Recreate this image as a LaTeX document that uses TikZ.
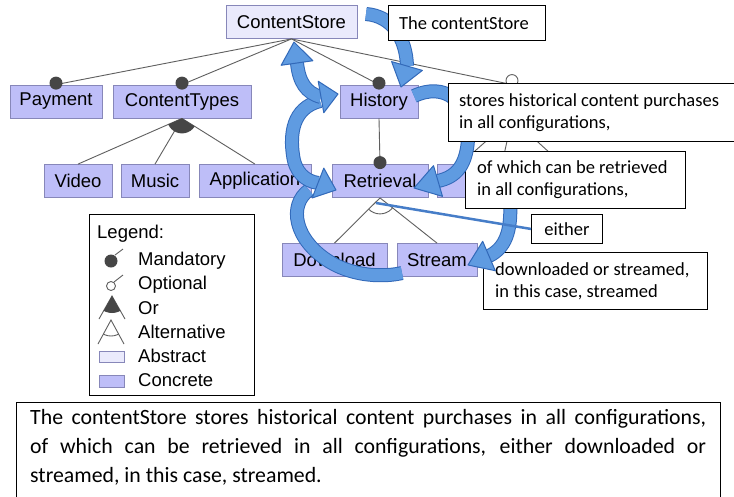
\documentclass[tikz,border=0pt]{standalone}
\usepackage{fontspec}
\setmainfont{Liberation Sans}
\newfontfamily\calfont{Carlito}
\usetikzlibrary{calc}
\definecolor{concrete}{RGB}{190,190,248}
\definecolor{abstractc}{RGB}{234,234,252}
\definecolor{featedge}{RGB}{135,135,185}
\definecolor{treeline}{RGB}{95,95,95}
\definecolor{dotc}{RGB}{70,70,70}
\definecolor{bandfill}{RGB}{95,155,225}
\definecolor{bandedge}{RGB}{50,105,185}
\definecolor{eitherc}{RGB}{70,125,200}
\newcommand\bhead[2]{\filldraw[headst] (#1) -- ($(#2)!16pt!90:(#1)$) -- ($(#2)!16pt!-90:(#1)$) -- cycle;}
\begin{document}
\begin{tikzpicture}[x=1pt,y=-1pt,
 feat/.style={draw=featedge, line width=0.8pt, fill=concrete, minimum height=33pt, inner sep=0pt, font=\fontsize{18.5}{20}\selectfont},
 absfeat/.style={feat, fill=abstractc},
 treeedge/.style={draw=treeline, line width=0.9pt},
 mdot/.style={fill=dotc},
 callbox/.style={draw=black, line width=0.9pt, fill=white, anchor=north west, inner sep=0pt},
 calltext/.style={anchor=west, align=left, inner sep=0pt, font=\calfont\fontsize{18.5}{22}\selectfont},
 band/.style={draw=bandedge, line width=1pt, double=bandfill, double distance=12pt},
 headst/.style={fill=bandfill, draw=bandedge, line width=1pt, line join=round},
 legtext/.style={anchor=west, inner sep=0pt, font=\fontsize{18.5}{20}\selectfont}
]
\useasboundingbox (0,0) rectangle (734,496);
\fill[white] (0,0) rectangle (734,496);

% feature tree
\node[absfeat, minimum width=131pt] (cs) at (291.5,22) {ContentStore};
\node[feat, minimum width=92pt] (pay) at (56,101.5) {Payment};
\node[feat, minimum width=138pt] (ct) at (182,101.5) {ContentTypes};
\node[feat, minimum width=78pt] (hist) at (379,101.5) {History};
\node[feat, minimum width=90pt] (hid) at (512,101.5) {};
\node[feat, minimum width=68pt] (vid) at (78,181) {Video};
\node[feat, minimum width=68pt] (mus) at (155,181) {Music};
\node[feat, minimum width=112pt] (app) at (255,181) {Application};
\node[feat, minimum width=96pt] (ret) at (380,181) {Retrieval};
\node[feat, minimum width=46pt] (hc1) at (460,181) {};
\node[feat, minimum width=105pt] (dl) at (334.5,260) {Download};
\node[feat, minimum width=80pt] (str) at (437,260) {Stream};
\coordinate (hc2) at (502,164);
\coordinate (hc3) at (562,164);

\draw[treeedge] (cs.south) -- (pay.north);
\draw[treeedge] (cs.south) -- (ct.north);
\draw[treeedge] (cs.south) -- (hist.north);
\draw[treeedge] (cs.south) -- (hid.north);
\draw[treeedge] (hist.south) -- (ret.north);
\draw[treeedge] (ct.south) -- (vid.north);
\draw[treeedge] (ct.south) -- (mus.north);
\draw[treeedge] (ct.south) -- (app.north);
\draw[treeedge] (ret.south) -- (dl.north);
\draw[treeedge] (ret.south) -- (str.north);
\draw[treeedge] (hid.south) -- (hc1.north);
\draw[treeedge] (hid.south) -- (hc2);
\draw[treeedge] (hid.south) -- (hc3);

\fill[mdot] ([yshift=1.5pt]pay.north) circle (6.5);
\fill[mdot] ([yshift=1.5pt]ct.north) circle (6.5);
\fill[mdot] ([yshift=1.5pt]hist.north) circle (6.5);
\fill[mdot] ([yshift=1.5pt]ret.north) circle (6.5);
\draw[treeedge, fill=white] ([yshift=4pt]hid.north) circle (6);
\begin{scope}
\clip (ct.south) -- (vid.north) -- (app.north) -- cycle;
\fill[mdot] (ct.south) circle (15);
\end{scope}
\begin{scope}
\clip (ret.south) -- (dl.north) -- (str.north) -- cycle;
\draw[treeedge] (ret.south) circle (16);
\end{scope}

% legend
\node[draw=black, line width=0.9pt, minimum width=165pt, minimum height=181pt, anchor=north west, inner sep=0pt] (leg) at (89,214) {};
\node[legtext] (lt0) at (97,234) {Legend:};
\node[legtext] (lt1) at (138,261) {Mandatory};
\node[legtext] (lt2) at (138,285) {Optional};
\node[legtext] (lt3) at (138,308) {Or};
\node[legtext] (lt4) at (138,332) {Alternative};
\node[legtext] (lt5) at (138,356) {Abstract};
\node[legtext] (lt6) at (138,380) {Concrete};
\fill[mdot] (111,261) circle (6.5);
\draw[treeedge] (115,255) -- (123,249);
\draw[treeedge] (111,286) circle (4.5);
\draw[treeedge] (114,282) -- (123,275);
\draw[treeedge] (99,319) -- (112,296) -- (125,319);
\begin{scope}
\clip (112,296) -- (99,319) -- (125,319) -- cycle;
\fill[mdot] (112,296) circle (17);
\end{scope}
\draw[treeedge] (98,344) -- (111,320) -- (124,344);
\begin{scope}
\clip (111,320) -- (98,344) -- (124,344) -- cycle;
\draw[treeedge] (111,320) circle (16);
\end{scope}
\draw[draw=featedge, line width=0.8pt, fill=abstractc] (99,351) rectangle (124,362);
\draw[draw=featedge, line width=0.8pt, fill=concrete] (99,375) rectangle (124,387);

% callout downloaded (under arrow F)
\node[callbox, minimum width=224pt, minimum height=57pt] (c5) at (483,252) {};
\node[calltext] (c5t) at ([xshift=12pt]c5.west) {downloaded or streamed,\\in this case, streamed};

% arrow F
\coordinate (fS) at (510,200);
\coordinate (fB) at (489,256);
\coordinate (fT) at (468,265);
\draw[band] (fS) .. controls (512,232) and (505,248) .. (fB);
\bhead{fT}{fB}

\node[callbox, minimum width=220pt, minimum height=57pt] (c3) at (465,151) {};
\node[calltext] (c3t) at ([xshift=12pt]c3.west) {of which can be retrieved\\in all configurations,};
\node[callbox, minimum width=71pt, minimum height=29pt] (c4) at (531,214) {};
\node[calltext, anchor=center] (c4t) at (c4.center) {either};

% arrow A
\coordinate (aS) at (366,14);
\coordinate (aB) at (407,66);
\coordinate (aT) at (401,87);
\draw[band] (aS) .. controls (392,16) and (406,38) .. (aB);
\bhead{aT}{aB}
\node[callbox, minimum width=157pt, minimum height=35pt] (c1) at (388,5) {};
\node[calltext] (c1t) at ([xshift=11pt]c1.west) {The contentStore};

% arrow B
\coordinate (bS) at (414,96);
\coordinate (bB) at (438,181);
\coordinate (bT) at (414,188);
\draw[band] (bS) .. controls (444,82) and (470,100) .. (468,140) .. controls (466,166) and (456,177) .. (bB);
\bhead{bT}{bB}
\node[callbox, minimum width=286pt, minimum height=58pt] (c2) at (448,83) {};
\node[calltext] (c2t) at ([xshift=11pt]c2.west) {stores historical content purchases\\in all configurations,};

% arrows C, D, E
\coordinate (eS) at (309,190);
\coordinate (eE) at (402,273);
\draw[band] (eS) .. controls (288,205) and (294,240) .. (330,262) .. controls (355,277) and (385,277) .. (eE);
\coordinate (dS) at (320,101);
\coordinate (dB) at (318,183);
\coordinate (dT) at (336,190);
\draw[band] (dS) .. controls (292,108) and (290,135) .. (293,155) .. controls (295,172) and (305,181) .. (dB);
\coordinate (cT1) at (294,42);
\coordinate (cB1) at (297,63);
\coordinate (cB2) at (321,97);
\coordinate (cT2) at (338,94);
\draw[band] (cB1) .. controls (299,82) and (306,93) .. (cB2);
\bhead{cT1}{cB1}
\bhead{cT2}{cB2}
\bhead{dT}{dB}

% either line
\coordinate (estart) at (376,203);
\draw[eitherc, line width=2.5pt] (estart) -- (c4.west);

% bottom text
\node[draw=black, line width=0.9pt, anchor=north west, minimum width=704pt, minimum height=130pt, inner sep=0pt] (bbox) at (16,402) {};
\node[anchor=north west, inner sep=0pt, text width=676pt, align=justify, font=\calfont\fontsize{21.8}{29}\selectfont] (para) at (30,409) {The contentStore stores historical content purchases in all configurations,\linebreak of which can be retrieved in all configurations, either downloaded or\linebreak streamed, in this case, streamed.};
\end{tikzpicture}
\end{document}
